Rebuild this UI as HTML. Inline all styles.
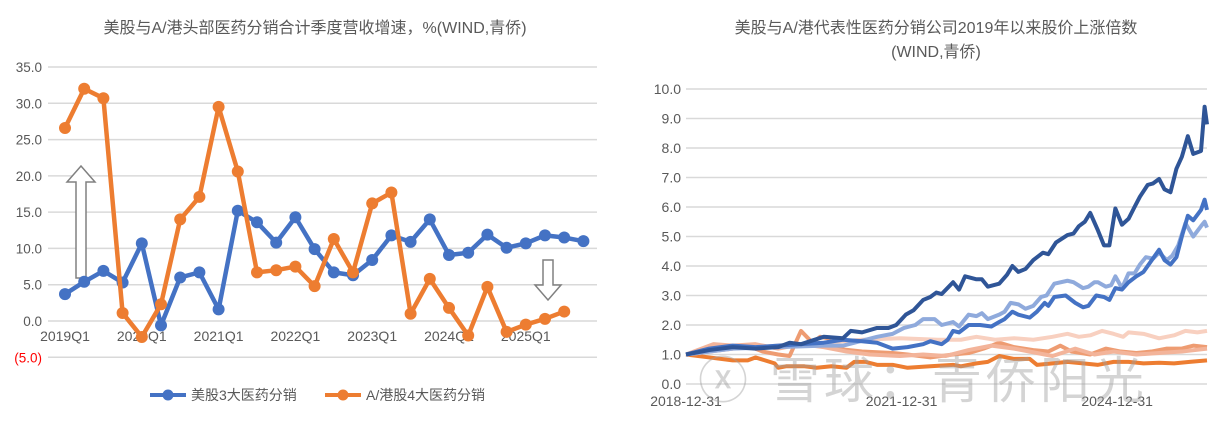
<!DOCTYPE html>
<html><head><meta charset="utf-8">
<style>
html,body{margin:0;padding:0;background:#fff;}
body{width:1230px;height:421px;overflow:hidden;font-family:"Liberation Sans","Noto Sans CJK SC",sans-serif;}
svg text{font-family:"Liberation Sans","Noto Sans CJK SC",sans-serif;}
</style></head>
<body>
<svg id="chart" width="1230" height="421" viewBox="0 0 1230 421" xmlns="http://www.w3.org/2000/svg">
<g id="left"></g>
<g id="right"></g>
</svg>
<script>
// ---------- Left chart data ----------
const quarters = ["2019Q1","2019Q2","2019Q3","2019Q4","2020Q1","2020Q2","2020Q3","2020Q4","2021Q1","2021Q2","2021Q3","2021Q4","2022Q1","2022Q2","2022Q3","2022Q4","2023Q1","2023Q2","2023Q3","2023Q4","2024Q1","2024Q2","2024Q3","2024Q4","2025Q1","2025Q2","2025Q3","2025Q4"];
const usSeries = [3.7,5.4,6.9,5.3,10.7,-0.6,6.0,6.7,1.6,15.2,13.6,10.8,14.3,9.9,6.7,6.3,8.4,11.8,10.9,14.0,9.1,9.4,11.9,10.1,10.7,11.8,11.5,11.0];
const ahSeries = [26.6,32.0,30.7,1.1,-2.2,2.3,14.0,17.1,29.5,20.6,6.7,7.0,7.5,4.8,11.3,6.7,16.2,17.7,1.0,5.8,1.8,-2.0,4.7,-1.5,-0.5,0.3,1.3];
const leftTicks = [35,30,25,20,15,10,5,0,-5];
const leftTickLabels = ["35.0","30.0","25.0","20.0","15.0","10.0","5.0","0.0","(5.0)"];

// ---------- Right chart data (x = months since 2018-12-31) ----------
const darkBlueM = [0,3.9,7.8,11.6,15.4,17.3,19.2,23,26.2,27.5,29.4,31.9,33.8,35.1,36.7,38,39.6,40.8,41.8,42.7,44.6,45.6,46.6,48.5,49.4,50.4,52.3,53.6,54.5,55.5,56.7,58,59.6,60.5,61.8,63.7,64.7,65.6,66.6,67.5,68.8,69.8,70.7,71.7,72.8,73.9,74.9,75.8,77.1,78,79,79.9,80.9,81.9,82.8,83.8,84.7,86,86.6,87];
const darkBlueV = [1.0,1.15,1.25,1.2,1.25,1.4,1.35,1.6,1.55,1.8,1.75,1.9,1.9,2.0,2.35,2.5,2.85,2.95,3.1,3.05,3.45,3.2,3.65,3.55,3.55,3.3,3.4,3.7,4.0,3.8,3.9,4.2,4.45,4.4,4.8,5.05,5.1,5.35,5.5,5.8,5.2,4.7,4.7,5.95,5.4,5.6,6.0,6.35,6.75,6.8,6.95,6.6,6.5,7.3,7.7,8.4,7.8,7.9,9.4,8.8];
const midBlueM = [0,3.9,7.8,11.6,15.4,19.2,23,26.2,29.4,31.9,34.5,37,39.6,40.8,42.7,43.7,44.6,45.6,47.2,49.1,51,52.3,53.2,54.5,55.5,57.4,58.6,59.9,60.5,61.5,63.4,65,66.3,67.2,68.5,69.8,70.7,71.7,72.8,73.9,75.2,76.4,79,79.9,80.9,81.9,82.8,83.8,84.7,86,86.6,87];
const midBlueV = [1.0,1.2,1.3,1.25,1.3,1.35,1.4,1.5,1.45,1.4,1.2,1.25,1.35,1.45,1.35,1.5,1.8,1.75,2.0,2.0,1.95,2.1,2.2,2.45,2.35,2.25,2.45,2.75,2.65,2.95,3.0,2.75,2.6,2.65,3.0,2.95,2.85,3.25,3.2,3.45,3.65,3.8,4.55,4.2,4.05,4.3,5.0,5.7,5.55,5.9,6.25,5.9];
const lightBlueM = [0,7.8,15.4,23,26.2,31.9,34.5,36.4,38.3,39.6,41.5,42.7,44.6,45.6,47.2,48.5,49.4,50.4,52.3,53.2,54.2,55.5,56.7,58,59.3,60.2,61.5,63.7,64.7,66.3,67.2,68.2,68.8,70.1,71,71.7,72.8,73.9,74.9,75.8,76.8,78,79,80.3,81.2,82.2,83.4,84.7,86,86.6,87];
const lightBlueV = [1.0,1.2,1.25,1.3,1.3,1.6,1.7,1.9,2.0,2.2,2.2,2.0,2.1,1.95,2.35,2.3,2.4,2.2,2.35,2.45,2.75,2.7,2.55,2.65,2.95,3.0,3.4,3.5,3.45,3.25,3.3,3.45,3.45,3.3,3.35,3.65,3.25,3.75,3.75,4.05,4.3,4.25,4.45,4.2,4.35,4.7,5.45,5.0,5.35,5.5,5.3];
const paleM = [0,7.8,15.4,23,29.4,35.7,42.1,45.9,48.5,51.6,54.8,58,61.2,63.7,65.6,67.5,69.5,71.4,73,73.9,76.4,79,81.5,83.4,85.4,87];
const paleV = [1.0,1.2,1.3,1.4,1.5,1.55,1.5,1.5,1.6,1.5,1.55,1.5,1.6,1.7,1.6,1.65,1.8,1.7,1.6,1.75,1.7,1.55,1.65,1.8,1.75,1.8];
const orangeM = [0,3.9,7.8,10.3,11.6,14.8,15.4,16.7,19.8,21.8,24.3,26.8,28.1,30,31.9,34.5,37,40.8,44.6,45.9,48.5,50.4,52.3,54.8,57.4,58.6,61.2,63.7,66.3,68.8,71.4,73.9,76.4,79,81.5,84.1,87];
const orangeV = [1.0,0.9,0.8,0.8,0.9,0.7,0.55,0.6,0.6,0.55,0.6,0.55,0.75,0.75,0.65,0.65,0.55,0.6,0.65,0.6,0.7,0.75,0.95,0.85,0.85,0.65,0.7,0.75,0.7,0.65,0.75,0.75,0.7,0.72,0.7,0.75,0.8];
const salmonM = [0,3.9,7.8,10.3,12.8,15.4,17.3,19.2,21.1,22.4,23.7,24.9,29.4,34.5,37,40.8,44.6,47.2,49.7,52.3,54.8,58,60.5,62.5,64.4,67.5,70.1,72.6,75.2,77.7,80.3,82.8,84.7,87];
const salmonV = [1.0,1.1,1.2,1.3,1.1,1.0,0.95,1.8,1.4,1.6,1.55,1.2,1.1,1.05,1.0,0.9,1.0,1.05,1.2,1.4,1.25,1.15,1.1,1.3,1.1,1.0,1.2,1.1,1.05,1.1,1.2,1.2,1.3,1.25];
const peachM = [0,4.6,7.8,11.6,15.4,19.2,23,26.8,30.7,35.7,39.6,43.4,47.2,51,54.8,58.6,61.2,65,68.2,71.4,75.2,79,82.8,87];
const peachV = [1.0,1.35,1.3,1.35,1.2,1.35,1.25,1.1,1.0,0.95,1.0,0.95,1.15,1.3,1.2,1.05,0.95,1.2,1.0,1.1,1.0,1.05,1.1,1.2];
const rightTicks = [0,1,2,3,4,5,6,7,8,9,10];
const dateTicksM = [0,36,72];
const dateTickLabels = ["2018-12-31","2021-12-31","2024-12-31"];

const NS="http://www.w3.org/2000/svg";
function mk(parent,tag,attrs,text){const e=document.createElementNS(NS,tag);for(const k in attrs)e.setAttribute(k,attrs[k]);if(text!==undefined)e.textContent=text;parent.appendChild(e);return e;}

// ---------- Left chart ----------
const L=document.getElementById('left');
const lx0=65, lstep=19.2, lxL=48, lxR=597;
function lY(v){return 321 - v*(254/35);}
function lX(i){return lx0 + i*lstep;}
let t=mk(L,'text',{x:315,y:33,'text-anchor':'middle','font-size':'16',fill:'#595959'},'美股与A/港头部医药分销合计季度营收增速，%(WIND,青侨)');


leftTicks.forEach((v,i)=>{
  const g=mk(L,'line',{x1:lxL,x2:lxR,y1:lY(v),y2:lY(v),stroke:'#d9d9d9','stroke-width':1.5});
  
  
  const lb=mk(L,'text',{x:42,y:lY(v)+5,'text-anchor':'end','font-size':'13.5',fill:v<0?'#ff0000':'#595959'},leftTickLabels[i]);
  
  
});
quarters.forEach((q,i)=>{
  if(i%4!==0)return;
  const lb=mk(L,'text',{x:lX(i),y:lY(0)+20,'text-anchor':'middle','font-size':'14',fill:'#595959'},q);
  
  
});
// arrows
const up=mk(L,'path',{d:'M76,278 L76,182 L67,182 L81,166 L95,182 L86,182 L86,278 Z',fill:'#fff',stroke:'#808080','stroke-width':1.5});


const dn=mk(L,'path',{d:'M543,260 L553,260 L553,285 L561,285 L548,300 L535,285 L543,285 Z',fill:'#fff',stroke:'#808080','stroke-width':1.5});


function drawLeftSeries(vals,color,name){
  const pts=vals.map((v,i)=>lX(i)+','+lY(v)).join(' ');
  const pl=mk(L,'polyline',{points:pts,fill:'none',stroke:color,'stroke-width':4.5,'stroke-linejoin':'round'});
  
  
  vals.forEach((v,i)=>{
    const c=mk(L,'circle',{cx:lX(i),cy:lY(v),r:6,fill:color});
    
    
  });
}
drawLeftSeries(usSeries,'#4472c4','us-distributors');
drawLeftSeries(ahSeries,'#ed7d31','ah-distributors');
// legend
[[150,'#4472c4','美股3大医药分销','legend-us'],[325,'#ed7d31','A/港股4大医药分销','legend-ah']].forEach(d=>{
  const l=mk(L,'line',{x1:d[0],x2:d[0]+36,y1:395,y2:395,stroke:d[1],'stroke-width':4});
  
  
  const c=mk(L,'circle',{cx:d[0]+18,cy:395,r:5.5,fill:d[1]});
  
  
  const tx=mk(L,'text',{x:d[0]+41,y:400,'font-size':'14',fill:'#595959'},d[2]);
  
  
});

// ---------- Right chart ----------
const R=document.getElementById('right');
const rxL=686, rxR=1207;
function rX(m){return rxL + m/87*(rxR-rxL);}
function rY(v){return 384 - v*29.5;}
let t1=mk(R,'text',{x:936,y:33,'text-anchor':'middle','font-size':'16',fill:'#595959'},'美股与A/港代表性医药分销公司2019年以来股价上涨倍数');


let t2=mk(R,'text',{x:936,y:57,'text-anchor':'middle','font-size':'16',fill:'#595959'},'(WIND,青侨)');


rightTicks.forEach(v=>{
  const g=mk(R,'line',{x1:rxL,x2:rxR,y1:rY(v),y2:rY(v),stroke:'#d9d9d9','stroke-width':1.5});
  
  
  const lb=mk(R,'text',{x:681,y:rY(v)+5,'text-anchor':'end','font-size':'14',fill:'#595959'},v.toFixed(1));
  
  
});
dateTicksM.forEach((m,i)=>{
  const lb=mk(R,'text',{x:rX(m),y:406,'text-anchor':'middle','font-size':'14',fill:'#595959'},dateTickLabels[i]);
  
  
});
function drawRight(ms,vs,color,name){
  const pts=ms.map((m,i)=>rX(m)+','+rY(vs[i])).join(' ');
  const pl=mk(R,'polyline',{points:pts,fill:'none',stroke:color,'stroke-width':4,'stroke-linejoin':'round'});
  
  
}
drawRight(orangeM,orangeV,'#ed7d31','orange-stock-line');
drawRight(salmonM,salmonV,'#ee9c72','salmon-stock-line');
drawRight(peachM,peachV,'#f3b49a','peach-stock-line');
drawRight(paleM,paleV,'#f8d0c0','pale-stock-line');
drawRight(lightBlueM,lightBlueV,'#8faadc','light-blue-stock-line');
drawRight(midBlueM,midBlueV,'#4472c4','mid-blue-stock-line');
drawRight(darkBlueM,darkBlueV,'#2f5597','dark-blue-stock-line');
const wm=mk(R,'text',{x:698,y:398,'font-size':'50','letter-spacing':'4',fill:'rgba(160,160,160,0.45)'},'ⓧ 雪球：青侨阳光');


</script>
</body></html>
